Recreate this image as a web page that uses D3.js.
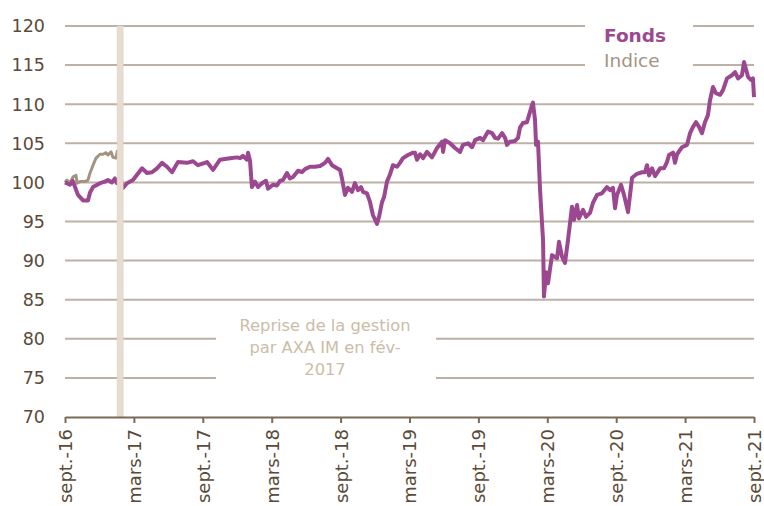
<!DOCTYPE html>
<html><head><meta charset="utf-8">
<script src="https://cdn.jsdelivr.net/npm/d3@7"></script>
<style>body{margin:0;background:#fff}svg{display:block}</style>
</head><body>
<svg id="c" width="764" height="506"></svg>
<script>
// months since sept. 2016
const fondsMonths = [0,0.44,0.67,1.13,1.57,2.0,2.18,2.44,3.05,3.48,3.74,4.09,4.35,4.53,4.79,5.05,5.40,5.92,6.71,7.14,7.58,8.01,8.45,8.88,9.32,9.84,10.62,11.15,11.58,12.37,12.89,13.50,14.37,14.98,15.24,15.50,15.85,15.94,16.11,16.28,16.55,16.81,17.16,17.50,17.68,18.11,18.46,18.72,18.98,19.33,19.59,19.86,20.29,20.64,20.90,21.34,21.77,22.21,22.64,22.90,23.25,23.69,23.95,24.12,24.38,24.64,24.99,25.25,25.52,25.78,25.95,26.30,26.56,26.82,27.17,27.35,27.61,27.78,28.04,28.30,28.56,28.91,29.17,29.43,29.87,30.31,30.48,30.65,30.92,31.18,31.52,31.96,32.40,32.83,32.92,33.09,33.53,33.96,34.40,34.66,35.10,35.45,35.71,36.14,36.40,36.84,37.19,37.45,37.71,38.06,38.32,38.49,38.75,39.19,39.45,39.62,39.88,40.23,40.41,40.67,40.75,40.93,41.02,41.19,41.37,41.63,41.71,41.89,42.06,42.41,42.85,43.02,43.28,43.54,43.80,44.15,44.33,44.59,44.76,45.11,45.37,45.72,45.98,46.33,46.76,47.20,47.46,47.72,47.90,48.07,48.42,48.68,49.03,49.38,49.81,50.25,50.51,50.68,50.86,51.12,51.38,51.82,52.16,52.42,52.60,52.95,53.12,53.30,53.73,54.17,54.43,54.69,54.95,55.21,55.47,55.73,55.99,56.17,56.43,56.69,57.04,57.30,57.65,58.08,58.35,58.61,58.95,59.13,59.48,59.74,59.91,60];
const fondsValues = [100,99.7,100.2,98.4,97.7,97.7,98.7,99.4,99.9,100.1,100.3,100,100.5,99.9,100.8,99.3,99.9,100.3,101.8,101.2,101.3,101.8,102.5,102,101.3,102.6,102.5,102.7,102.2,102.6,101.6,102.9,103.1,103.2,103.1,103.4,102.9,103.8,102.8,99.4,100.1,99.4,99.9,100.2,99.2,99.7,99.6,100.2,100.3,101.2,100.5,100.7,101.5,101.3,101.7,102,102,102.1,102.5,103,102.2,101.8,101.6,100.5,98.4,99.3,98.8,99.9,99,99.4,98.8,98.6,97.5,95.8,94.7,95.6,97.5,98.1,100.1,101,102.2,102,102.5,103.1,103.5,103.8,103.8,102.9,103.6,103.1,103.9,103.2,104.4,105.2,103.9,105.4,105,104.4,103.9,104.8,105,104.5,105.4,105.7,105.4,106.5,106.3,105.7,105.6,106.3,105.7,104.8,105.2,105.3,105.7,107,107.6,107.7,108.6,109.9,110.2,108,104.8,105.2,99,92.6,85.4,88.5,87.1,90.7,90.3,92.4,90.5,89.7,92.6,96.9,95.2,97.1,95.4,96.5,95.6,96.1,97.4,98.4,98.6,99.4,99,99.3,96.7,98.4,99.7,98.4,96.2,100.6,101.1,101.3,101.3,102.2,100.9,101.8,100.8,101.8,101.8,102.6,103.5,103.8,102.5,103.6,104.5,104.8,106.3,107.1,107.7,107.1,106.3,107.7,108.6,110.5,112.2,111.4,111.2,111.8,113.3,113.7,114.1,113.3,113.7,115.4,113.5,113.1,113.3,110.9];
const indiceMonths = [0,0.17,0.44,0.70,0.96,1.05,1.31,1.74,2.0,2.18,2.44,2.70,3.05,3.31,3.57,3.74,4.01,4.18,4.44,4.57];
const indiceValues = [100,100.3,99.9,100.7,100.9,99.9,100.1,100.1,100.3,101.2,102.2,103.1,103.6,103.6,103.8,103.5,103.9,103.2,103.1,104.1];
const tickMonths = [0,6,12,18,24,30,36,42,48,54,60];
const tickLabels = ['sept.-16','mars-17','sept.-17','mars-18','sept.-18','mars-19','sept.-19','mars-20','sept.-20','mars-21','sept.-21'];
const yTicks = [70,75,80,85,90,95,100,105,110,115,120];
const seriesNames = ['Fonds','Indice'];
const takeoverMonth = 4.8;
const noteLines = ['Reprise de la gestion','par AXA IM en fév-','2017'];

const svg = d3.select('#c');
const font = 'DejaVu Sans, Verdana, sans-serif';
const x = d3.scaleLinear().domain([0,60]).range([65,754]);
const y = d3.scaleLinear().domain([70,120]).range([417,26]);

// gridlines
svg.append('g').selectAll('line').data(yTicks.filter(v=>v>70)).join('line')
  .attr('x1',x(0)).attr('x2',x(60)).attr('y1',d=>y(d)).attr('y2',d=>y(d))
  .attr('stroke','#bcb1a4').attr('stroke-width',2);

// y labels
svg.append('g').selectAll('text').data(yTicks).join('text')
  .attr('x',45).attr('y',d=>y(d)).attr('dy','0.36em').attr('text-anchor','end')
  .attr('font-family',font).attr('font-size',17.5).attr('fill','#5a4a38').text(d=>d);

// annotation
svg.append('rect').attr('x',216).attr('y',312).attr('width',220).attr('height',72).attr('fill','#fff');
svg.append('g').selectAll('text').data(noteLines).join('text')
  .attr('x',325).attr('y',(d,i)=>331+i*22).attr('text-anchor','middle')
  .attr('font-family',font).attr('font-size',16.3).attr('fill','#cbbda8').text(d=>d);

// lines
const line = d3.line().x(d=>x(d[0])).y(d=>y(d[1]));
svg.append('path').datum(indiceMonths.map((m,i)=>[m,indiceValues[i]]))
  .attr('d',line).attr('fill','none').attr('stroke','#a39482').attr('stroke-width',3).attr('stroke-linejoin','round');
svg.append('path').datum(fondsMonths.map((m,i)=>[m,fondsValues[i]]))
  .attr('d',line).attr('fill','none').attr('stroke','#9c4890').attr('stroke-width',4).attr('stroke-linejoin','round');

// takeover bar
svg.append('rect').attr('x',x(takeoverMonth)-3).attr('y',y(120)).attr('width',6).attr('height',y(70)-y(120))
  .attr('fill','#e6ddd0').attr('stroke','#ddd2c3').attr('stroke-width',0.6);

// x axis
const xa = svg.append('g').attr('transform',`translate(0,${y(70)})`)
  .call(d3.axisBottom(x).tickValues(tickMonths).tickFormat((d,i)=>tickLabels[i]).tickSize(6).tickSizeOuter(0));
xa.select('.domain').attr('stroke','#7a6a56').attr('stroke-width',2);
xa.selectAll('.tick line').attr('stroke','#7a6a56').attr('stroke-width',2);
xa.selectAll('.tick text').attr('font-family',font).attr('font-size',18).attr('fill','#5a4a38')
  .attr('text-anchor','end').attr('transform','rotate(-90)').attr('x',-12).attr('y',0).attr('dy','0.36em');

// legend
svg.append('rect').attr('x',585).attr('y',16).attr('width',108).attr('height',56).attr('fill','#fff');
svg.append('g').selectAll('text').data(seriesNames).join('text')
  .attr('x',604).attr('y',(d,i)=>35+i*25).attr('dy','0.36em')
  .attr('font-family',font).attr('font-size',18.5).attr('font-weight',(d,i)=>i===0?'bold':'normal')
  .attr('fill',(d,i)=>i===0?'#9c4890':'#a39482').text(d=>d);
</script>
</body></html>
